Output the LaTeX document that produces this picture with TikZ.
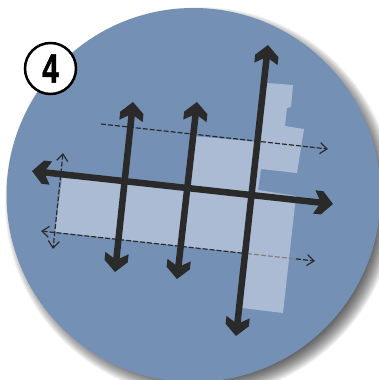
\documentclass[tikz,border=0pt]{standalone}
\usepackage{fontspec}
\setmainfont{Liberation Sans}[BoldFeatures={FakeBold=1.6}]
\usepackage{xcolor}
\usepackage{tikz}
\usetikzlibrary{arrows.meta}

\definecolor{discblue}{HTML}{7590B5}
\definecolor{blocklight}{HTML}{ABBBD3}
\definecolor{inkdark}{HTML}{2A2A2A}

\pgfdeclarearrow{
    name=MainHead,
    setup code={
        \pgfarrowssettipend{0pt}
        \pgfarrowssetlineend{-12pt}
        \pgfarrowssetvisualbackend{-14pt}
        \pgfarrowssetbackend{-19pt}
    },
    drawing code={
        \pgfpathmoveto{\pgfpoint{0pt}{0pt}}
        \pgfpathlineto{\pgfpoint{-11pt}{11.7pt}}
        \pgfpathlineto{\pgfpoint{-19pt}{11.7pt}}
        \pgfpathlineto{\pgfpoint{-14pt}{3.25pt}}
        \pgfpathlineto{\pgfpoint{-14pt}{-3.25pt}}
        \pgfpathlineto{\pgfpoint{-19pt}{-11.7pt}}
        \pgfpathlineto{\pgfpoint{-11pt}{-11.7pt}}
        \pgfpathclose
        \pgfusepathqfill
    }
}

\tikzset{
    sidehead/.tip={Straight Barb[length=7pt, width=11pt]},
    mainstreet/.style={draw=inkdark, line width=6.5pt, MainHead-MainHead},
    sidestreet/.style={draw=inkdark, line width=1.2pt, dash pattern=on 5pt off 2pt},
}

\begin{document}
\begin{tikzpicture}[x=1pt, y=-1pt]
    \useasboundingbox (0,0) rectangle (379,380);
    \clip (0,0) rectangle (379,380);

    % 1. Bong do va dia tron
    \foreach \k in {-8,...,8} {
        \fill[black, opacity=0.05] (200,202) circle[radius=187+\k];
    }
    \fill[discblue] (193.5,195) circle[radius=187];

    % 2. Khoi nha
    \fill[blocklight] (62,178) -- (190,187) -- (193,136) -- (258,142) -- (267,83)
        -- (293,85) -- (291,107) -- (287,108) -- (285,126) -- (304,129)
        -- (297,173) -- (261,169) -- (258,190) -- (296,196) -- (283,313)
        -- (242,308) -- (243,253) -- (55,232) -- cycle;

    % 3. Duong nho net dut
    \draw[sidestreet, -sidehead] (101,124) -- (328,149);
    \draw[sidestreet, sidehead-] (41,231) -- (247,253.6);
    \draw[sidestreet, gray] (247,253.6) -- (296,258.9);
    \draw[sidestreet, -sidehead] (296,258.9) -- (315,261);
    \draw[sidestreet, sidehead-sidehead] (63,153) -- (53,249);

    % 4. Duong chinh
    \draw[mainstreet] (32,171) -- (333,204);
    \draw[mainstreet] (133,102) -- (115,272);
    \draw[mainstreet] (197,102) -- (177,279);
    \draw[mainstreet] (268,45) -- (236,336);

    % 5. So thu tu
    \node[draw=black, fill=white, circle, line width=2.5pt, minimum size=51pt, inner sep=0pt] (badge) at (50.5,68.5)
        {\fontsize{41}{41}\selectfont\bfseries\scalebox{0.72}[1]{4}};
\end{tikzpicture}
\end{document}
